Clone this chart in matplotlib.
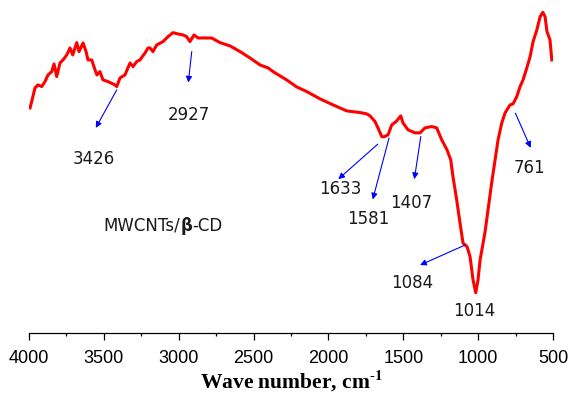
"""
FTIR spectrum of MWCNTs/beta-CD with peak annotations
"""
import matplotlib
matplotlib.use('Agg')
import matplotlib.pyplot as plt
from matplotlib.ticker import MultipleLocator

# spectrum (wavenumber cm-1, transmittance a.u.)
wn = [3993, 3982, 3960, 3940, 3915, 3893, 3873, 3848, 3833, 3815,
      3793, 3773, 3748, 3726, 3708, 3681, 3666, 3639, 3619, 3606,
      3581, 3559, 3546, 3526, 3506, 3472, 3426, 3414, 3392, 3359,
      3325, 3305, 3281, 3259, 3225, 3205, 3192, 3172, 3147, 3105,
      3071, 3038, 3005, 2971, 2947, 2925, 2898, 2871, 2813, 2780,
      2724, 2657, 2590, 2524, 2457, 2403, 2370, 2279, 2212, 2145,
      2056, 1969, 1878, 1789, 1744, 1722, 1689, 1669, 1644, 1629,
      1602, 1577, 1548, 1517, 1502, 1468, 1421, 1388, 1355, 1310,
      1277, 1243, 1208, 1183, 1168, 1143, 1121, 1101, 1074, 1054,
      1034, 1016, 1001, 987, 954, 909, 867, 842, 820, 787,
      767, 742, 720, 700, 675, 653, 633, 608, 586, 568,
      553, 540, 520, 508]
trans = [67.6, 69.5, 73.6, 74.5, 74.0, 75.5, 77.5, 78.5, 80.8, 77.0,
         81.1, 82.0, 83.5, 85.6, 83.5, 87.2, 84.5, 87.1, 84.5, 82.0,
         82.0, 79.0, 77.5, 78.5, 76.0, 75.5, 74.5, 74.0, 76.6, 77.5,
         81.1, 80.0, 81.5, 82.0, 84.1, 85.6, 85.6, 84.5, 86.5, 87.5,
         89.0, 90.2, 89.8, 89.5, 89.0, 87.5, 89.5, 88.6, 88.6, 88.6,
         87.2, 86.2, 84.5, 82.6, 80.5, 79.6, 78.5, 76.0, 73.9, 72.5,
         70.3, 68.5, 66.7, 66.2, 65.8, 65.2, 63.5, 61.6, 59.0, 58.9,
         59.5, 62.5, 63.5, 65.2, 63.1, 61.0, 60.1, 60.1, 61.6, 62.0,
         61.6, 58.0, 55.0, 52.0, 46.9, 39.9, 33.0, 27.0, 25.9, 22.9,
         15.9, 12.1, 15.9, 21.9, 30.3, 45.3, 58.0, 63.1, 66.1, 68.5,
         68.8, 71.0, 74.0, 76.0, 79.6, 83.0, 87.5, 91.0, 95.0, 96.3,
         95.0, 90.5, 88.0, 82.0]

# peak labels: text, arrow tail, arrow head, text position
peak_labels = ['3426', '2927', '1633', '1581', '1407', '1084', '761']
arrow_from = [(3414, 73.0), (2913, 84.5), (1671, 56.7), (1595, 58.6),
              (1383, 59.0), (1088, 26.4), (751, 66.0)]
arrow_to = [(3554, 61.6), (2936, 75.2), (1934, 46.2), (1704, 40.1),
            (1426, 46.2), (1388, 20.4), (649, 55.6)]
label_pos = [(3566, 52.3), (2931, 65.5), (1922, 43.2), (1735, 34.2),
             (1448, 39.0), (1443, 14.9), (658, 49.5)]

txt_kw = dict(fontsize=12, family='DejaVu Sans', color='#1a1a1a')

fig = plt.figure(figsize=(5.69, 3.93), dpi=100)
ax = fig.add_axes([29/569, 60/393, 524/569, 333/393])

ax.plot(wn, trans, color='red', lw=2.2, solid_joinstyle='round')

for lab, p0, p1, pt in zip(peak_labels, arrow_from, arrow_to, label_pos):
    ax.annotate('', xy=p1, xytext=p0,
                arrowprops=dict(arrowstyle='-|>', color='blue', lw=0.8,
                                mutation_scale=9, shrinkA=0, shrinkB=0))
    ax.text(pt[0], pt[1], lab, ha='center', va='center', **txt_kw)
ax.text(1025, 6.7, '1014', ha='center', va='center', **txt_kw)

# sample name with bold beta
t1 = ax.text(3500, 32.2, 'MWCNTs/', ha='left', va='center', **txt_kw)
t2 = ax.annotate('\u03b2', xycoords=t1, xy=(1, 0), va='bottom',
                 weight='bold', **txt_kw)
t3 = ax.annotate('-CD', xycoords=t2, xy=(1, 0), va='bottom', **txt_kw)

ax.set_xlim(4000, 500)
ax.set_ylim(0, 100)
ax.xaxis.set_major_locator(MultipleLocator(500))
ax.xaxis.set_minor_locator(MultipleLocator(250))
ax.tick_params(axis='x', which='major', direction='out', length=4.7,
               width=0.9, pad=7.2, labelsize=13)
ax.tick_params(axis='x', which='minor', direction='out', length=2.3,
               width=0.9)
for lbl in ax.get_xticklabels():
    lbl.set_family('Liberation Sans')
ax.set_yticks([])
for s in ['left', 'right', 'top']:
    ax.spines[s].set_visible(False)
ax.spines['bottom'].set_linewidth(0.9)

ax.set_xlabel(r'Wave number, cm$^{\mathbf{\text{-}1}}$', fontsize=15.5,
              family='Liberation Serif', weight='bold', labelpad=1,
              math_fontfamily='stix')

fig.savefig('out.png', dpi=100)
